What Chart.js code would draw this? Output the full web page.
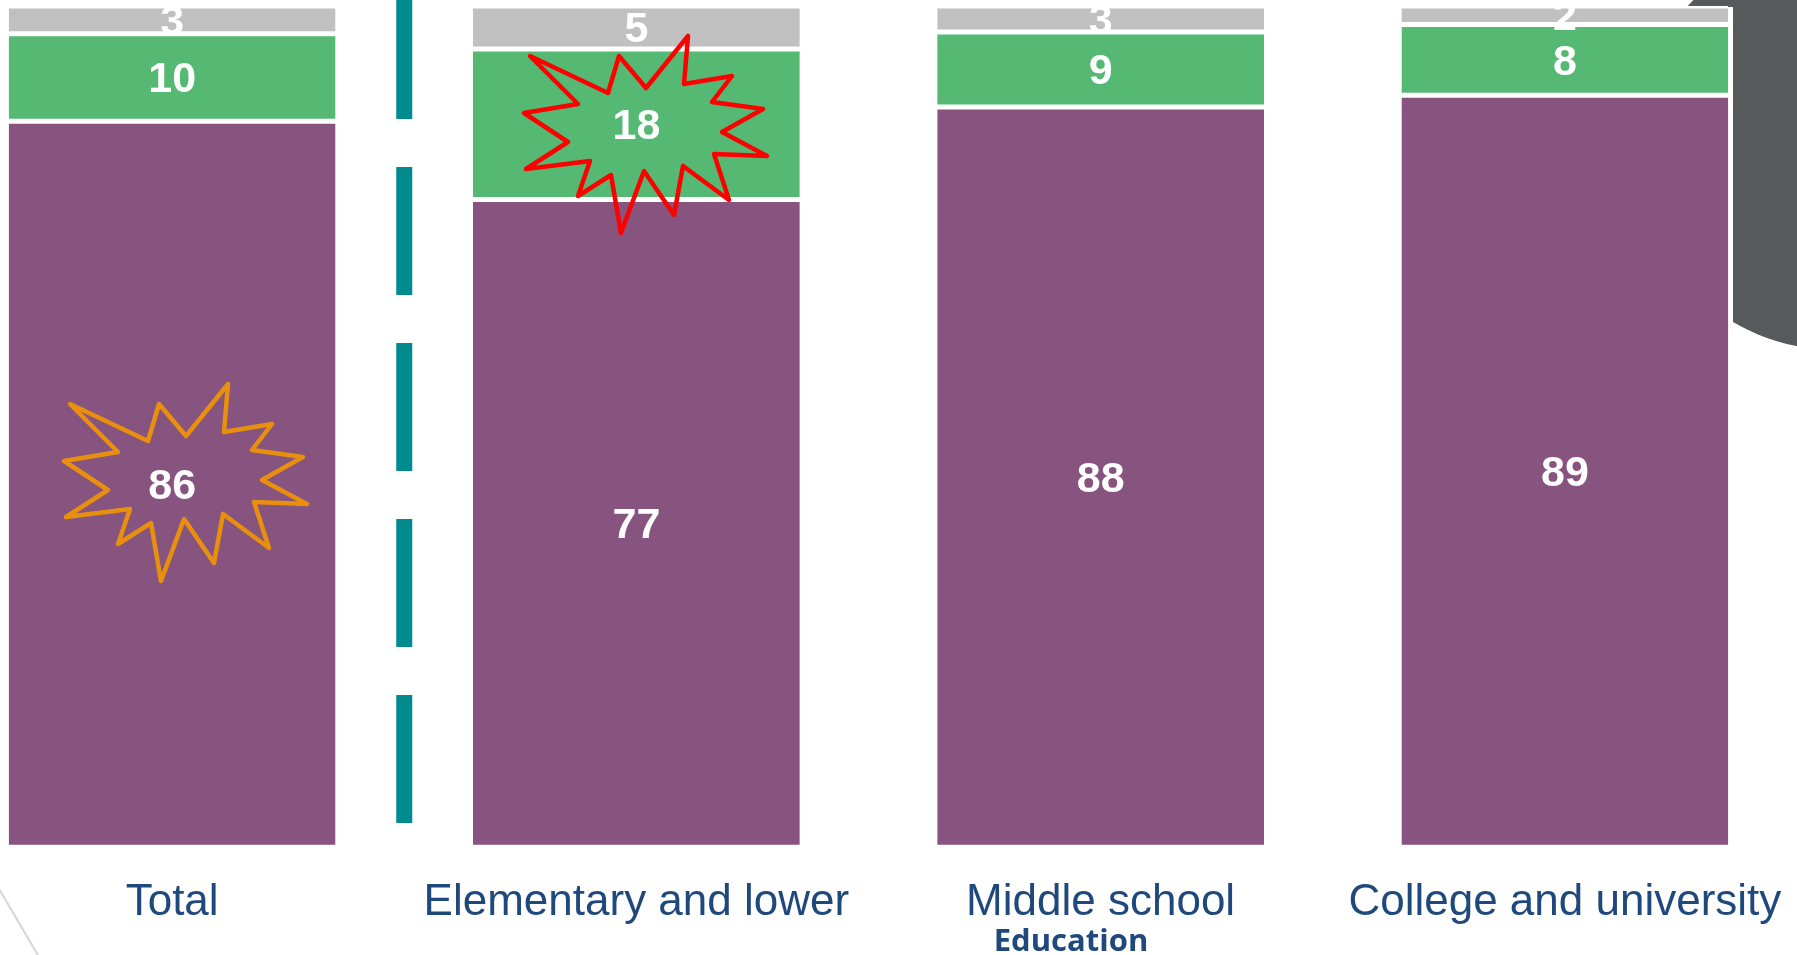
<!DOCTYPE html>
<html>
<head>
<meta charset="utf-8">
<script src="https://cdn.jsdelivr.net/npm/chart.js@4.4.1/dist/chart.umd.min.js"></script>
<style>
html, body { margin: 0; padding: 0; background: #ffffff; }
#wrap { position: relative; width: 1797px; height: 955px; overflow: hidden; }
#box { position: absolute; left: -60px; top: 0; width: 1857px; height: 955px; }
</style>
</head>
<body>
<div id="wrap"><div id="box"><canvas id="Chart1"></canvas></div></div>
<script>
const categorias = ["Total", "Elementary and lower", "Middle school", "College and university"]
const serie_roxa = [86.3, 77.0, 88.0, 89.4]
const serie_verde = [10.4, 17.9, 8.9, 8.4]
const serie_cinza = [3.3, 5.1, 3.1, 2.2]
const titulo_eixo = "Education"

// canvas is shifted 60px to the left so the first bar sits at the page edge
const SHIFT = 60

// starburst outline, relative to its top-left corner
const estrela = [[20,34],[98,71],[109,34],[136,66],[178,14],[174,62],[222,54],[202,80],[253,87],[212,110],[257,134],[204,132],
    [219,178],[173,144],[164,193],[134,149],[111,211],[101,153],[68,174],[80,139],[16,147],[58,120],[14,91],[68,82]]

function desenha_estrela(ctx, ox, oy, cor) {
    ctx.save()
    ctx.beginPath()
    estrela.forEach((p, i) => {
        if (i === 0) ctx.moveTo(ox + p[0], oy + p[1])
        else ctx.lineTo(ox + p[0], oy + p[1])
    })
    ctx.closePath()
    ctx.lineWidth = 4.5
    ctx.lineJoin = "round"
    ctx.strokeStyle = cor
    ctx.stroke()
    ctx.restore()
}

const fundo = {
    id: "fundo",
    beforeDraw(chart) {
        const ctx = chart.ctx
        ctx.save()
        ctx.fillStyle = "#ffffff"
        ctx.fillRect(0, 0, chart.width, chart.height)
        // dark slide decoration top right
        ctx.fillStyle = "#58595B"
        ctx.beginPath()
        ctx.arc(1836 + SHIFT, 146, 204, 0, Math.PI * 2)
        ctx.fill()
        ctx.fillStyle = "#ffffff"
        ctx.fillRect(0, 7, 1733 + SHIFT, chart.height)
        // thin grey line bottom left
        ctx.strokeStyle = "#D6D6D6"
        ctx.lineWidth = 2
        ctx.beginPath()
        ctx.moveTo(-5 + SHIFT, 882)
        ctx.lineTo(42 + SHIFT, 962)
        ctx.stroke()
        ctx.restore()
    },
    beforeDatasetsDraw(chart) {
        const ctx = chart.ctx
        const x = chart.scales.x
        const meio = (x.getPixelForValue(0) + x.getPixelForValue(1)) / 2
        ctx.save()
        ctx.strokeStyle = "#008C8F"
        ctx.lineWidth = 16
        ctx.setLineDash([128, 48])
        ctx.beginPath()
        ctx.moveTo(meio, 823)
        ctx.lineTo(meio, 0)
        ctx.stroke()
        ctx.restore()
    }
}

const rotulos = {
    id: "rotulos",
    afterDatasetsDraw(chart) {
        const ctx = chart.ctx
        desenha_estrela(ctx, 50 + SHIFT, 370, "#E8900E")
        desenha_estrela(ctx, 510 + SHIFT, 22, "#FF0000")

        ctx.save()
        ctx.font = "bold 43px 'Liberation Sans', Arial, sans-serif"
        ctx.fillStyle = "#ffffff"
        ctx.textAlign = "center"
        ctx.textBaseline = "middle"
        chart.data.datasets.forEach((ds, i) => {
            chart.getDatasetMeta(i).data.forEach((bar, j) => {
                const p = bar.getCenterPoint()
                ctx.fillText(Math.round(ds.data[j]), p.x, p.y + 3)
            })
        })
        ctx.restore()
    },
    afterDraw(chart) {
        const ctx = chart.ctx
        ctx.save()
        ctx.font = "bold 31px 'Open Sans', sans-serif"
        ctx.fillStyle = "#1F497D"
        ctx.textAlign = "center"
        ctx.textBaseline = "alphabetic"
        ctx.fillText(titulo_eixo, 1071 + SHIFT, 951)
        ctx.restore()
    }
}

const borda = {top: 2.5, bottom: 2.5, left: 0, right: 0}

const ex1 = document.getElementById("Chart1")

new Chart(ex1, {
    type: "bar",
    data: {
        labels: categorias,
        datasets: [
            {
                label: "roxa",
                data: serie_roxa,
                backgroundColor: "#87537F",
                borderColor: "#ffffff",
                borderWidth: borda,
                borderSkipped: false
            },
            {
                label: "verde",
                data: serie_verde,
                backgroundColor: "#55B973",
                borderColor: "#ffffff",
                borderWidth: borda,
                borderSkipped: false
            },
            {
                label: "cinza",
                data: serie_cinza,
                backgroundColor: "#C0C0C0",
                borderColor: "#ffffff",
                borderWidth: borda,
                borderSkipped: false
            }
        ]
    },
    options: {
        responsive: true,
        maintainAspectRatio: false,
        animation: false,
        barPercentage: 0.704,
        categoryPercentage: 1,
        layout: {
            padding: {top: 6, bottom: 26, left: 0, right: 0}
        },
        plugins: {
            legend: {display: false},
            tooltip: {enabled: false}
        },
        scales: {
            x: {
                stacked: true,
                grid: {display: false, drawTicks: true, tickLength: 29},
                border: {display: false},
                ticks: {
                    color: "#1F497D",
                    font: {family: "'Liberation Sans', Arial, sans-serif", size: 44},
                    padding: 0,
                    maxRotation: 0,
                    autoSkip: false
                }
            },
            y: {
                stacked: true,
                display: false,
                min: 0,
                max: 100
            }
        }
    },
    plugins: [fundo, rotulos]
})
</script>
</body>
</html>
